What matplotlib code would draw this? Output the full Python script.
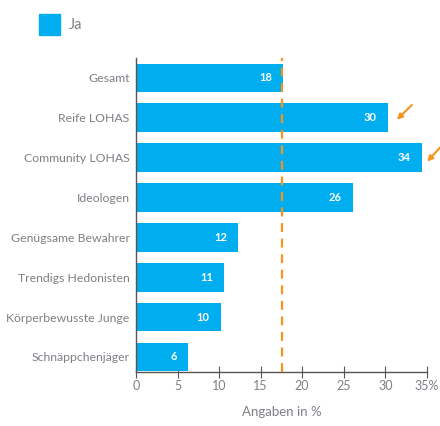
import matplotlib
matplotlib.use("Agg")
import matplotlib.pyplot as plt
from matplotlib.patches import Rectangle

categories = ["Gesamt", "Reife LOHAS", "Community LOHAS", "Ideologen",
              "Genügsame Bewahrer", "Trendigs Hedonisten", "Körperbewusste Junge",
              "Schnäppchenjäger"]
values = [17.7, 30.3, 34.4, 26.1, 12.3, 10.6, 10.2, 6.3]
labels = ["18", "30", "34", "26", "12", "11", "10", "6"]
reference = 17.6
highlighted = ["Reife LOHAS", "Community LOHAS"]
xticks = [0, 5, 10, 15, 20, 25, 30, 35]
xticklabels = ["0", "5", "10", "15", "20", "25", "30", "35%"]

blue = "#00AEEF"
orange = "#F7941D"
gray = "#7f7f86"

plt.rcParams['font.family'] = ['Lato', 'DejaVu Sans']

fig = plt.figure(figsize=(4.4, 4.26), dpi=100)
ax = fig.add_axes([0.309, 0.127, 0.661, 0.737])

y = list(range(len(categories)))
ax.barh(y, values, height=0.72, color=blue, zorder=2)
for yi, v, lab in zip(y, values, labels):
    ax.annotate(lab, (v, yi), xytext=(-8, 0), textcoords="offset points",
                ha="right", va="center", color="white", fontsize=8, fontweight="bold", zorder=3)
ax.axvline(reference, color=orange, lw=1.6, ls=(0, (4, 3)), zorder=4)

arrow_offsets = {"Reife LOHAS": (1.1, 0.05, 2.9, -0.32),
                 "Community LOHAS": (0.65, 0.1, 2.4, -0.3)}
for cat in highlighted:
    i = categories.index(cat)
    v = values[i]
    hx, hy, tx, ty = arrow_offsets[cat]
    ax.annotate("", xy=(v + hx, i + hy), xytext=(v + tx, i + ty),
                arrowprops=dict(arrowstyle="-|>", color=orange, lw=1.5,
                                mutation_scale=8, shrinkA=0, shrinkB=0),
                annotation_clip=False)

ax.set_yticks(y)
ax.set_yticklabels(categories, fontsize=8.8, color=gray)
ax.set_ylim(7.375, -0.5)
ax.set_xlim(0, 35)
ax.set_xticks(xticks)
ax.set_xticklabels(xticklabels, fontsize=9, color=gray)
ax.tick_params(axis="y", length=0, pad=4.5)
ax.tick_params(axis="x", direction="inout", length=8, color="#555555", pad=2)
for s in ["top", "right"]:
    ax.spines[s].set_visible(False)
for s in ["left", "bottom"]:
    ax.spines[s].set_color("#555555")
    ax.spines[s].set_linewidth(1.0)
ax.set_xlabel("Angaben in %", fontsize=9.5, color=gray, labelpad=10)

# legend
fig.patches.append(Rectangle((39 / 440, 1 - 35 / 426), 21 / 440, 21 / 426,
                             transform=fig.transFigure, color=blue, figure=fig))
fig.text(69 / 440, 1 - 25 / 426, "Ja", fontsize=10.5, color=gray, va="center", ha="left")

fig.savefig("out.png", dpi=100)
